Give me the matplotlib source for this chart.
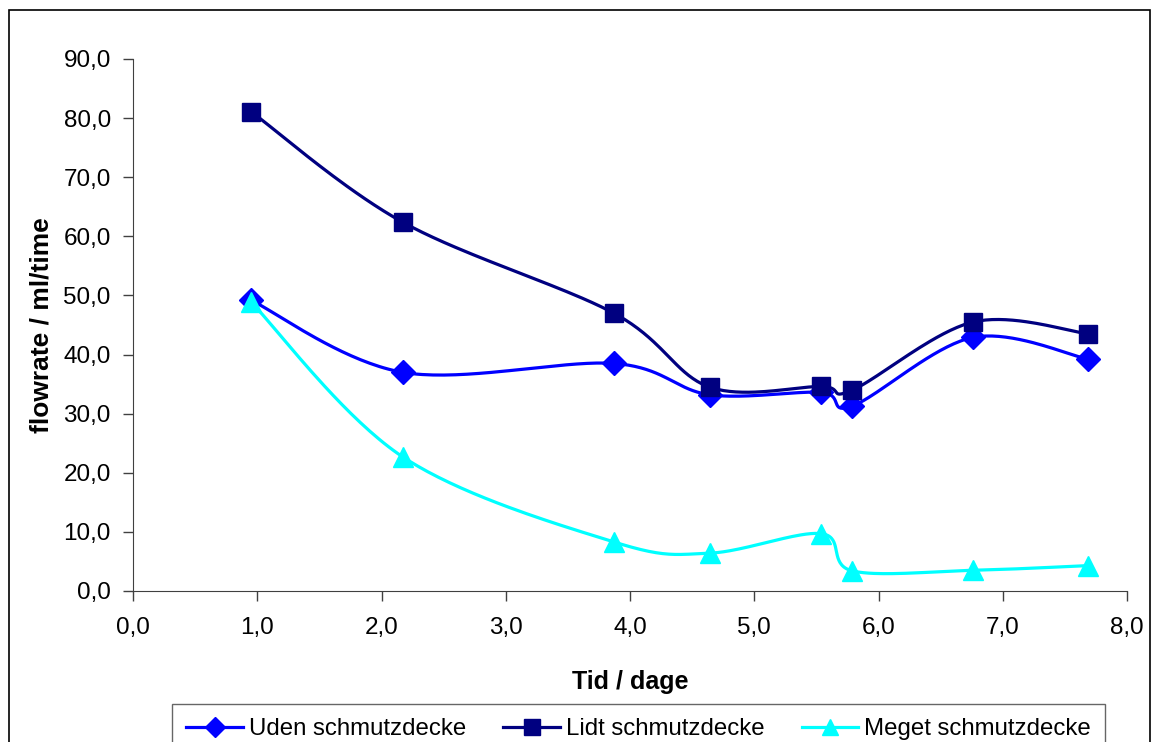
import numpy as np
import matplotlib
matplotlib.use("Agg")
import matplotlib.pyplot as plt
from matplotlib.patches import Rectangle
from matplotlib.ticker import FuncFormatter, MultipleLocator

plt.rcParams['font.family'] = ['Liberation Sans', 'DejaVu Sans']

# days since start
tid = [0.95, 2.17, 3.87, 4.64, 5.54, 5.79, 6.76, 7.69]
uden = [49.2, 37.0, 38.5, 33.2, 33.6, 31.3, 42.9, 39.2]
lidt = [81.1, 62.4, 47.0, 34.5, 34.6, 34.0, 45.5, 43.5]
meget = [48.9, 22.7, 8.3, 6.4, 9.7, 3.4, 3.5, 4.3]


def smooth(x, y, n=40):
    # bezier through the points, control points from neighbours
    x = np.asarray(x, float)
    y = np.asarray(y, float)
    px = np.concatenate([[x[0]], x, [x[-1]]])
    py = np.concatenate([[y[0]], y, [y[-1]]])
    xs, ys = [], []
    t = np.linspace(0, 1, n)
    for i in range(1, len(px) - 2):
        p0 = np.array([px[i], py[i]])
        p3 = np.array([px[i + 1], py[i + 1]])
        p1 = p0 + (np.array([px[i + 1], py[i + 1]]) - np.array([px[i - 1], py[i - 1]])) / 6
        p2 = p3 - (np.array([px[i + 2], py[i + 2]]) - np.array([px[i], py[i]])) / 6
        b = ((1 - t) ** 3)[:, None] * p0 + (3 * (1 - t) ** 2 * t)[:, None] * p1 \
            + (3 * (1 - t) * t ** 2)[:, None] * p2 + (t ** 3)[:, None] * p3
        xs.extend(b[:, 0])
        ys.extend(b[:, 1])
    return np.array(xs), np.array(ys)


fig = plt.figure(figsize=(11.57, 7.42), dpi=100)
ax = fig.add_axes([133 / 1157, 1 - 591 / 742, (1127 - 133) / 1157, (591 - 59) / 742])

series = [
    (uden, 'Uden schmutzdecke', '#0000FF', 'D', 12),
    (lidt, 'Lidt schmutzdecke', '#000080', 's', 13),
    (meget, 'Meget schmutzdecke', '#00FFFF', '^', 14),
]
for vals, name, col, mk, ms in series:
    sx, sy = smooth(tid, vals)
    ax.plot(sx, sy, color=col, lw=2.3, zorder=2)
    ax.plot(tid, vals, ls='none', marker=mk, ms=ms, color=col, zorder=3)
    ax.plot([], [], color=col, lw=2.3, marker=mk, ms=ms * 0.85, label=name)

ax.set_xlim(0, 8)
ax.set_ylim(0, 90)
ax.xaxis.set_major_locator(MultipleLocator(1))
ax.yaxis.set_major_locator(MultipleLocator(10))
fmt = FuncFormatter(lambda v, p: f"{v:.1f}".replace('.', ','))
ax.xaxis.set_major_formatter(fmt)
ax.yaxis.set_major_formatter(fmt)
ax.tick_params(direction='out', length=7, width=1, color='#404040', labelsize=17.5, pad=12)
ax.tick_params(axis='y', pad=9)
for s in ['top', 'right']:
    ax.spines[s].set_visible(False)
for s in ['left', 'bottom']:
    ax.spines[s].set_color('#404040')

ax.set_xlabel('Tid / dage', fontsize=18, fontweight='bold', labelpad=22)
ax.set_ylabel('flowrate / ml/time', fontsize=19, fontweight='bold', labelpad=7)

leg = fig.legend(loc='upper left', bbox_to_anchor=(172 / 1157, 1 - 704 / 742),
                 ncol=3, frameon=True, fancybox=False, edgecolor='#404040',
                 fontsize=17.3, handlelength=2.35, columnspacing=1.55,
                 borderpad=0.6, borderaxespad=0, handletextpad=0.25)
leg.get_frame().set_linewidth(1)

fig.patches.append(Rectangle((9 / 1157, -0.05), (1150 - 9) / 1157, 1 - 10 / 742 + 0.05,
                             transform=fig.transFigure, fill=False,
                             edgecolor='black', lw=1.2))

fig.savefig('out.png', dpi=100)
